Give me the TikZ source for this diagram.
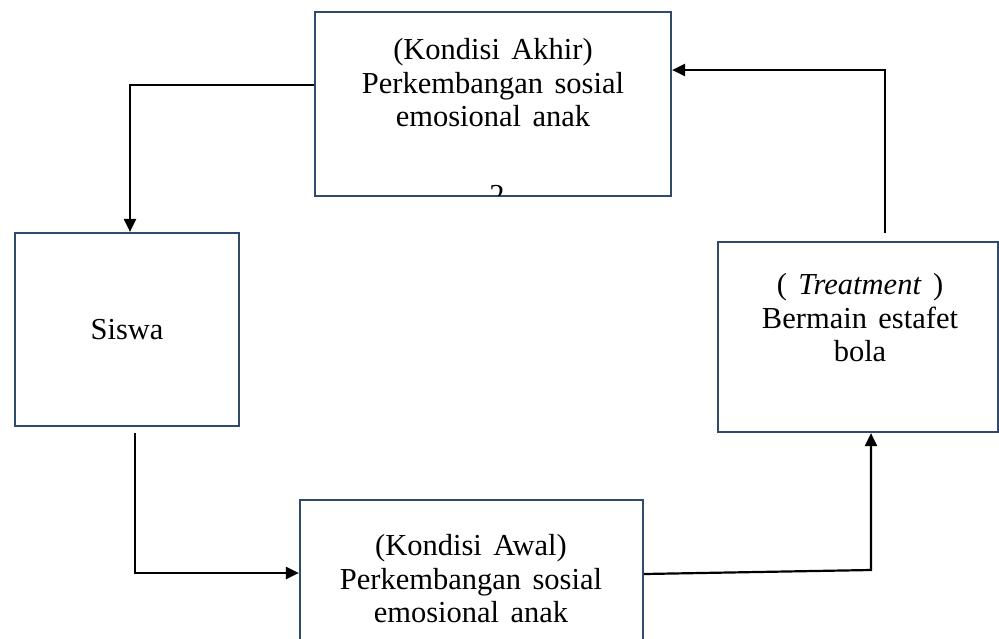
\documentclass[tikz,border=0pt]{standalone}
\usepackage{fontspec}
\setmainfont{Liberation Serif}[WordSpace=1.5]
\usetikzlibrary{arrows.meta}
\definecolor{boxc}{HTML}{2F4A6C}
\begin{document}
\begin{tikzpicture}[x=1pt,y=-1pt,
  box/.style={draw=boxc, line width=2.2pt, fill=white, inner sep=0pt},
  conn/.style={line width=2.2pt, black},
  arr/.style={conn, -{Triangle[length=13pt,width=12pt]}},
  txt/.style={font=\fontsize{30.5}{33.5}\selectfont, align=center, inner sep=0pt}]
\useasboundingbox (0,0) rectangle (999,638);
% boxes
\node[box, minimum width=356pt, minimum height=184pt] (akhir) at (493,104) {};
\node[box, minimum width=224pt, minimum height=193pt] (siswa) at (127,329.5) {};
\node[box, minimum width=280pt, minimum height=190pt] (treat) at (858,337) {};
\node[box, minimum width=343pt, minimum height=170pt] (awal) at (471.5,585) {};
% texts
\node[txt] (takhir) at (493,83) {(Kondisi Akhir)\\Perkembangan sosial\\emosional anak};
\begin{scope}
\clip (316,14) rectangle (670,195);
\node[txt, anchor=base] (two) at (497,205) {2};
\end{scope}
\node[txt] (tsiswa) at (127,330) {Siswa};
\node[txt] (ttreat) at (860,318) {( \textit{Treatment} )\\Bermain estafet\\bola};
\node[txt] (tawal) at (471,579) {(Kondisi Awal)\\Perkembangan sosial\\emosional anak};
% connector coordinates
\coordinate (c1) at (130,85);
\coordinate (c2) at (885,70);
\coordinate (s0) at (135,433);
\coordinate (s1) at (135,573);
\coordinate (t0) at (885,233);
\coordinate (w1) at (871,570);
% connectors
\draw[arr] (akhir.west |- c1) -- (c1) -- (c1 |- siswa.north);
\draw[arr] (t0) -- (c2) -- (c2 -| akhir.east);
\draw[arr] (s0) -- (s1) -- (s1 -| awal.west);
\draw[arr] (awal.east |- 0,574) -- (w1) -- (w1 |- treat.south);
\end{tikzpicture}
\end{document}
